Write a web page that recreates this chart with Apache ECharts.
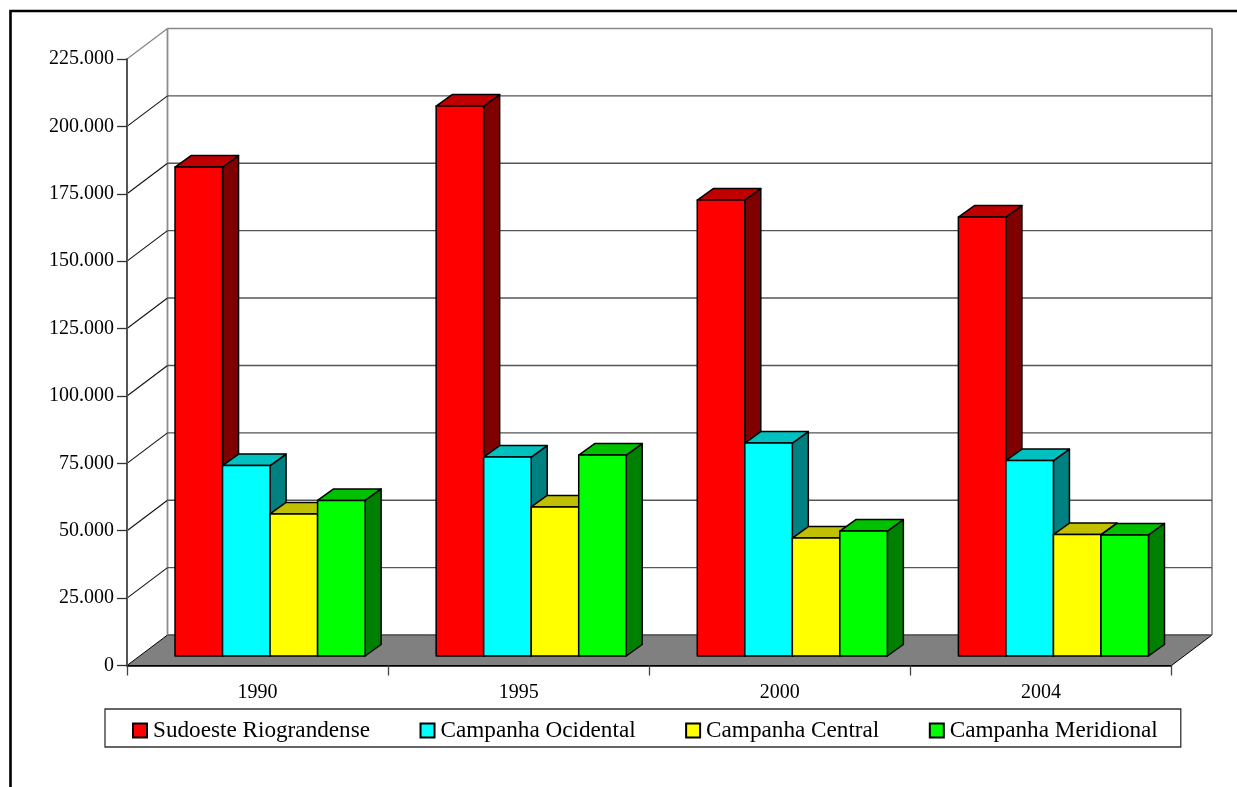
<!DOCTYPE html>
<html>
<head>
<meta charset="utf-8">
<title>Sudoeste Riograndense</title>
<style>
  html, body { margin: 0; padding: 0; background: #fff; }
  #chart { width: 1237px; height: 787px; }
</style>
<script src="https://cdn.jsdelivr.net/npm/echarts@6/dist/echarts.min.js"></script>
</head>
<body>
<div id="chart"></div>
<script>
// Values per census year
const categories = ['1990', '1995', '2000', '2004'];
const sudoeste = [181400, 204000, 169150, 162850];
const ocidental = [70650, 73800, 79000, 72500];
const central = [52700, 55300, 43750, 45050];
const meridional = [57700, 74550, 46350, 44900];
const yTicks = [0, 25000, 50000, 75000, 100000, 125000, 150000, 175000, 200000, 225000];

// Box projection: how far the back wall and the bars sit from the axis plane
const WALL_DX = 40.5, WALL_DY = 30.5;
const BAR_DX = 12.5, BAR_DY = 9.5;
const BAR_DEPTH_DX = 16, BAR_DEPTH_DY = 11.5;
const BAR_SHARE = 0.182;

const regions = [
  { name: 'Sudoeste Riograndense', values: sudoeste, front: '#ff0000', top: '#c00000', side: '#800000' },
  { name: 'Campanha Ocidental', values: ocidental, front: '#00ffff', top: '#00c0c0', side: '#008080' },
  { name: 'Campanha Central', values: central, front: '#ffff00', top: '#c0c000', side: '#808000' },
  { name: 'Campanha Meridional', values: meridional, front: '#00ff00', top: '#00c000', side: '#008000' }
];

// Thousands separated with a dot
const formatTick = v => String(v).replace(/\B(?=(\d{3})+$)/g, '.');

// Back wall, floor and the gridlines that run over both
function renderWall(params, api) {
  const rect = params.coordSys;
  const tick = api.value(1);
  const y = api.coord([0, tick])[1];
  const left = rect.x, right = rect.x + rect.width;
  const backLeft = left + WALL_DX, backRight = right + WALL_DX, backY = y - WALL_DY;
  const isTop = tick === yTicks[yTicks.length - 1];
  const children = [];

  if (tick === 0) {
    const wallTop = rect.y - WALL_DY;
    children.push({
      type: 'polygon',
      shape: { points: [[left, y], [right, y], [backRight, backY], [backLeft, backY]] },
      style: { fill: '#808080', stroke: '#000', lineWidth: 1 }
    });
    children.push({
      type: 'line',
      shape: { x1: backLeft, y1: wallTop, x2: backLeft, y2: backY },
      style: { stroke: '#8c8c8c', lineWidth: 1.8 }
    });
    children.push({
      type: 'line',
      shape: { x1: backRight, y1: wallTop, x2: backRight, y2: backY },
      style: { stroke: '#8c8c8c', lineWidth: 1.8 }
    });
    children.push({
      type: 'line',
      shape: { x1: backLeft, y1: backY, x2: backRight, y2: backY },
      style: { stroke: '#666', lineWidth: 1.4 }
    });
  } else {
    children.push({
      type: 'line',
      shape: { x1: left, y1: y, x2: backLeft, y2: backY },
      style: { stroke: isTop ? '#808080' : '#111', lineWidth: 1.1 }
    });
    children.push({
      type: 'line',
      shape: { x1: backLeft, y1: backY, x2: backRight, y2: backY },
      style: { stroke: isTop ? '#888' : '#555', lineWidth: 1.4 }
    });
  }
  return { type: 'group', children };
}

// One cuboid: front face, lit top and shaded side
function makeBarRenderer(region, position) {
  return function (params, api) {
    const center = api.coord([api.value(0), 0]);
    const topPoint = api.coord([api.value(0), api.value(1)]);
    const width = api.size([1, 0])[0] * BAR_SHARE;
    const x0 = center[0] + BAR_DX + (position - regions.length / 2) * width;
    const x1 = x0 + width;
    const yBase = center[1] - BAR_DY;
    const yTop = topPoint[1] - BAR_DY;
    const dx = BAR_DEPTH_DX, dy = BAR_DEPTH_DY;
    const edge = { stroke: '#000', lineWidth: 1.5, lineJoin: 'round' };
    return {
      type: 'group',
      children: [
        {
          type: 'polygon',
          shape: { points: [[x1, yBase], [x1 + dx, yBase - dy], [x1 + dx, yTop - dy], [x1, yTop]] },
          style: Object.assign({ fill: region.side }, edge)
        },
        {
          type: 'polygon',
          shape: { points: [[x0, yTop], [x1, yTop], [x1 + dx, yTop - dy], [x0 + dx, yTop - dy]] },
          style: Object.assign({ fill: region.top }, edge)
        },
        {
          type: 'polygon',
          shape: { points: [[x0, yBase], [x1, yBase], [x1, yTop], [x0, yTop]] },
          style: Object.assign({ fill: region.front }, edge)
        }
      ]
    };
  };
}

const serifFont = '"Liberation Serif", "Times New Roman", serif';
const chart = echarts.init(document.getElementById('chart'), null, { renderer: 'canvas' });

chart.setOption({
  animation: false,
  backgroundColor: '#fff',
  textStyle: { fontFamily: serifFont, color: '#000' },
  graphic: [{
    type: 'polyline',
    silent: true,
    shape: { points: [[10.5, 787], [10.5, 11], [1237, 11]] },
    style: { fill: 'none', stroke: '#000', lineWidth: 2.6 }
  }],
  grid: { left: 127, top: 59, width: 1044.5, height: 606.5, containLabel: false },
  xAxis: {
    type: 'category',
    data: categories,
    boundaryGap: true,
    z: 6,
    axisLine: { lineStyle: { color: '#000', width: 1.5 } },
    axisTick: { show: true, alignWithLabel: false, length: 10, lineStyle: { color: '#444', width: 1.3 } },
    axisLabel: { color: '#000', fontFamily: serifFont, fontSize: 20, margin: 17 },
    splitLine: { show: false }
  },
  yAxis: {
    type: 'value',
    min: 0,
    max: 225000,
    interval: 25000,
    z: 6,
    axisLine: { show: true, lineStyle: { color: '#555', width: 2 } },
    axisTick: { show: true, length: 10, lineStyle: { color: '#333', width: 1.3 } },
    axisLabel: { color: '#000', fontFamily: serifFont, fontSize: 20, margin: 13, formatter: formatTick },
    splitLine: { show: false }
  },
  legend: {
    left: 105,
    top: 709,
    orient: 'horizontal',
    padding: [10, 23, 5, 27],
    itemGap: 49.5,
    itemWidth: 14,
    itemHeight: 14,
    icon: 'rect',
    borderColor: '#333',
    borderWidth: 1.3,
    backgroundColor: '#fff',
    selectedMode: false,
    textStyle: { fontFamily: serifFont, fontSize: 23.2, color: '#000', padding: [0, 0, 0, 1] },
    data: regions.map(r => r.name)
  },
  series: [
    {
      type: 'custom',
      name: 'Estrutura',
      z: 1,
      silent: true,
      clip: false,
      renderItem: renderWall,
      encode: { x: 0, y: 1 },
      data: yTicks.map(t => [0, t])
    }
  ].concat(regions.map((region, position) => ({
    type: 'custom',
    name: region.name,
    z: 3,
    clip: false,
    itemStyle: { color: region.front, borderColor: '#000', borderWidth: 1 },
    renderItem: makeBarRenderer(region, position),
    encode: { x: 0, y: 1 },
    data: region.values.map((v, i) => [i, v])
  })))
});
</script>
</body>
</html>
